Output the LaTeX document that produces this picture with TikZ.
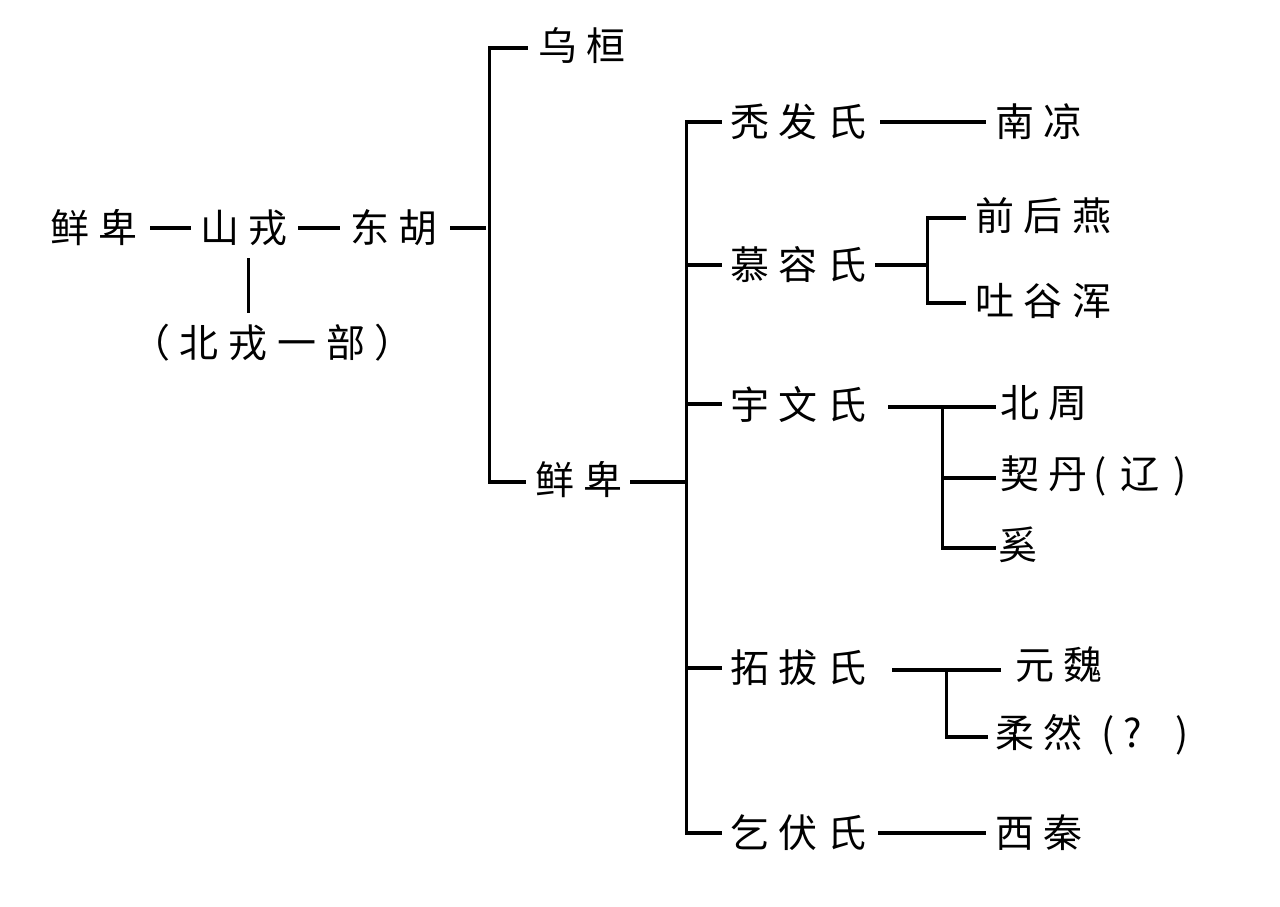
\documentclass[tikz,border=0pt]{standalone}
\usepackage{fontspec}
\newfontfamily\cjk[LetterSpace=25]{Noto Sans CJK SC}
\begin{document}
\begin{tikzpicture}[x=1pt,y=-1pt,
  lab/.style={anchor=west,inner sep=0pt,font=\cjk\fontsize{39}{39}\selectfont},
  ln/.style={line width=3.6pt},
  vl/.style={line width=3pt}]
\useasboundingbox (0,0) rectangle (1280,906);
% first row
\node[lab] (xb0) at (50,228) {鲜卑};
\node[lab] (sr) at (200,228) {山戎};
\node[lab] (dh) at (350,228) {东胡};
\node[lab] (br) at (131,343) {（北戎一部）};
\draw[ln] (150,228) -- (191,228);
\draw[ln] (298,228) -- (340,228);
\draw[ln] (450,228) -- (486,228);
\draw[vl] (248,258) -- (248,313);
% level 2
\coordinate (v1t) at (489,48);
\coordinate (v1b) at (489,482);
\draw[vl] (v1t) -- (v1b);
\node[lab] (wh) at (538,46) {乌桓};
\node[lab] (xb) at (535,480) {鲜卑};
\draw[ln] (488,48) -- (528,48);
\draw[ln] (488,482) -- (526,482);
\draw[ln] (630,482) -- (687,482);
% level 3
\draw[vl] (686,121) -- (686,835);
\foreach \y in {122,265,404,668,833} \draw[ln] (685,\y) -- (722,\y);
\node[lab] (tf) at (730,122) {秃发氏};
\node[lab] (mr) at (730,265) {慕容氏};
\node[lab] (yw) at (730,404) {宇文氏};
\node[lab] (tb) at (730,668) {拓拔氏};
\node[lab] (qf) at (730,833) {乞伏氏};
% 秃发
\draw[ln] (880,122) -- (986,122);
\node[lab] (nl) at (995,122) {南凉};
% 慕容
\draw[ln] (875,265) -- (928,265);
\draw[vl] (927,217) -- (927,304);
\draw[ln] (926,218) -- (966,218);
\draw[ln] (926,303) -- (966,303);
\node[lab] (qhy) at (975,216) {前后燕};
\node[lab] (tgh) at (975,301) {吐谷浑};
% 宇文
\draw[ln] (888,407) -- (996,407);
\draw[vl] (942,406) -- (942,549);
\draw[ln] (941,478) -- (996,478);
\draw[ln] (941,548) -- (996,548);
\node[lab] (bz) at (1000,403) {北周};
\node[lab] (qd) at (1000,476) {\makebox[93pt][l]{契丹}\makebox[27pt][l]{(}\makebox[53pt][l]{辽})};
\node[lab] (xi) at (998,545) {奚};
% 拓拔
\draw[ln] (892,670) -- (1001,670);
\draw[vl] (946,669) -- (946,738);
\draw[ln] (945,737) -- (988,737);
\node[lab] (yw2) at (1015,665) {元魏};
\node[lab] (rr) at (995,735) {\makebox[106pt][l]{柔然}\makebox[22pt][l]{(}\makebox[52pt][l]{?})};
% 乞伏
\draw[ln] (878,833) -- (986,833);
\node[lab] (xq) at (995,833) {西秦};
\end{tikzpicture}
\end{document}
